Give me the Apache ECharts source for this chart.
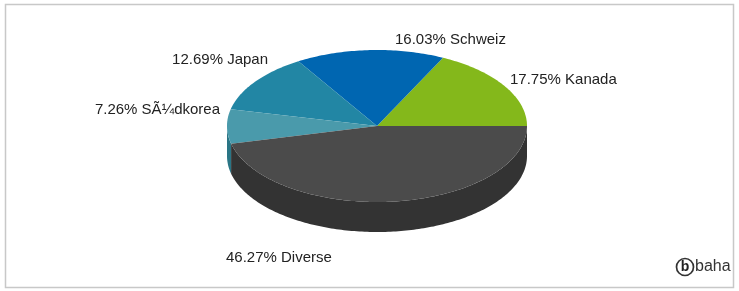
<!DOCTYPE html>
<html>
<head>
<meta charset="utf-8">
<script src="https://cdn.jsdelivr.net/npm/echarts@6/dist/echarts.min.js"></script>
<style>
    html, body { margin: 0; padding: 0; background: #fff; }
    #echarts-pie3d-chart { width: 739px; height: 291px; }
</style>
</head>
<body>
<div id="echarts-pie3d-chart"></div>
<script>
var countries = ['Kanada', 'Schweiz', 'Japan', 'SÃ¼dkorea', 'Diverse'];
var shares = [17.75, 16.03, 12.69, 7.26, 46.27];
var topColors = ['#84b81b', '#0066b1', '#2286a4', '#4a9aab', '#4b4b4b'];
var sideColors = ['#5f8a12', '#004c86', '#186479', '#2a7585', '#333333'];

// ellipse layout of the 3d pie
var cx = 377, cy = 126, rx = 150, ry = 76, depth = 30;
// where each label sits: [x, y, align]
var labelPos = [
    [510, 80, 'left'],
    [395, 40, 'left'],
    [268, 60, 'right'],
    [220, 110, 'right'],
    [226, 258, 'left']
];

var total = shares.reduce(function (a, b) { return a + b; }, 0);
var starts = [], ends = [];
var acc = 0;
shares.forEach(function (v) {
    starts.push(acc / total * 360);
    acc += v;
    ends.push(acc / total * 360);
});

function pt(deg, dy) {
    var r = deg * Math.PI / 180;
    return [cx + rx * Math.cos(r), cy - ry * Math.sin(r) + (dy || 0)];
}

function renderItem(params, api) {
    var i = params.dataIndex;
    var a1 = starts[i], a2 = ends[i];
    var children = [];

    // front wall, only the lower half of the ellipse shows
    var s = Math.max(a1, 180), e = Math.min(a2, 360);
    if (s < e) {
        var wall = [], back = [];
        var n = Math.max(2, Math.ceil(e - s));
        for (var k = 0; k <= n; k++) {
            var t = s + (e - s) * k / n;
            wall.push(pt(t, 0));
            back.unshift(pt(t, depth));
        }
        children.push({
            type: 'polygon',
            z2: 1,
            shape: { points: wall.concat(back) },
            style: { fill: sideColors[i] }
        });
    }

    // top face
    var face = [[cx, cy]];
    var steps = Math.max(2, Math.ceil(a2 - a1));
    for (var j = 0; j <= steps; j++) {
        face.push(pt(a1 + (a2 - a1) * j / steps, 0));
    }
    children.push({
        type: 'polygon',
        z2: 10,
        shape: { points: face },
        style: { fill: topColors[i] }
    });

    var lp = labelPos[i];
    children.push({
        type: 'text',
        z2: 20,
        x: lp[0],
        y: lp[1],
        style: {
            text: api.value(0).toFixed(2) + '% ' + countries[i],
            fill: '#222',
            font: '15px "Liberation Sans", Arial, sans-serif',
            align: lp[2],
            verticalAlign: 'middle'
        }
    });

    return { type: 'group', children: children };
}

var pieChart = echarts.init(document.getElementById('echarts-pie3d-chart'));
var pieoption = {
    animation: false,
    series: [
        {
            name: 'Anteil',
            type: 'custom',
            coordinateSystem: 'none',
            renderItem: renderItem,
            data: shares.map(function (v, i) { return { name: countries[i], value: [v] }; })
        }
    ],
    graphic: [
        {
            type: 'rect',
            shape: { x: 5.5, y: 4.5, width: 728, height: 283 },
            style: { fill: 'none', stroke: '#c8c8c8', lineWidth: 1.5 },
            z: -1
        },
        {
            type: 'circle',
            shape: { cx: 685, cy: 267, r: 8.5 },
            style: { fill: '#fff', stroke: '#333', lineWidth: 1.7 }
        },
        {
            type: 'text',
            x: 685, y: 267,
            style: {
                text: 'b', fill: '#222',
                font: 'bold 14px "Liberation Sans", Arial, sans-serif',
                align: 'center', verticalAlign: 'middle'
            }
        },
        {
            type: 'text',
            x: 695, y: 267,
            style: {
                text: 'baha', fill: '#333',
                font: '16px "Liberation Sans", Arial, sans-serif',
                align: 'left', verticalAlign: 'middle'
            }
        }
    ]
};
pieChart.setOption(pieoption);
window.onresize = pieChart.resize;
</script>
</body>
</html>
